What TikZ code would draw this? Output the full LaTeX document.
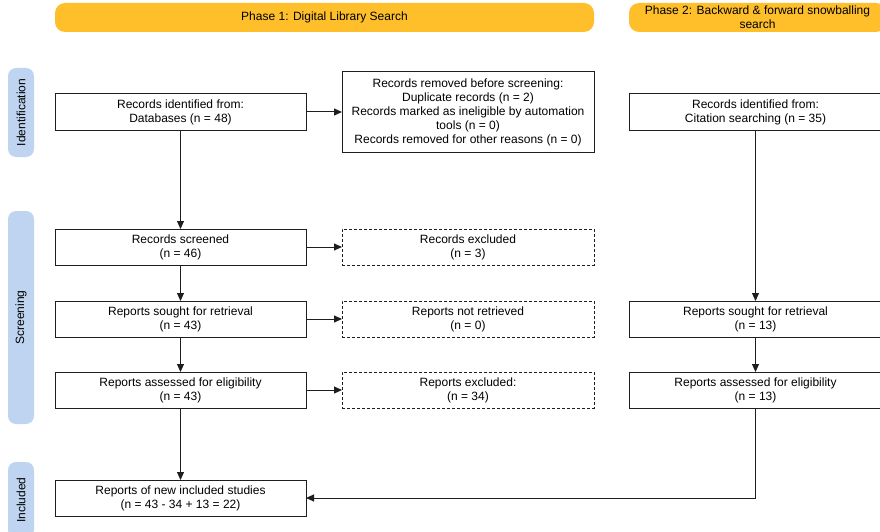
\documentclass[tikz,border=0pt]{standalone}
\usepackage{fontspec}
\setmainfont{Liberation Sans}
\usetikzlibrary{arrows.meta,positioning}
\definecolor{PrismaYellow}{HTML}{FEBF2B}
\definecolor{PrismaBlue}{HTML}{BFD4F0}
\definecolor{PrismaLine}{HTML}{1E1E1E}

\begin{document}
\begin{tikzpicture}[x=1pt,y=-1pt,node distance=36pt,
    every node/.style={font=\fontsize{12}{14}\selectfont},
    stepbox/.style={draw=PrismaLine,line width=1pt,minimum width=251pt,
      minimum height=36pt,align=center,inner sep=2pt,outer sep=0pt},
    exclbox/.style={stepbox,minimum width=252pt,dash pattern=on 3pt off 2pt},
    phasebar/.style={rounded corners=10pt,fill=PrismaYellow,minimum height=29pt,
      align=center,inner sep=1pt},
    sidebar/.style={rounded corners=8pt,fill=PrismaBlue,minimum height=26pt,
      rotate=90,inner sep=0pt},
    flow/.style={-{Triangle[length=8pt,width=7pt]},line width=1pt,PrismaLine}]
    \useasboundingbox (0,0) rectangle (880,532);
    \node[phasebar,minimum width=539pt] (ph1) at (324.5,17.5)
      {Phase 1: Digital Library Search};
    \node[phasebar,minimum width=257pt] (ph2) at (757.5,17.5)
      {Phase 2: Backward \& forward snowballing\\search};
    \node[sidebar,minimum width=89pt] (sid) at (21,112.5) {Identification};
    \node[sidebar,minimum width=213pt] (ssc) at (21,317.5) {Screening};
    \node[sidebar,minimum width=76pt] (sinc) at (21,500) {Included};
    \node[stepbox] (db) at (180.5,112)
      {Records identified from:\\Databases (n = 48)};
    \node[stepbox,minimum width=252pt,minimum height=80pt,right=of db] (rm)
      {Records removed before screening:\\Duplicate records (n = 2)\\
       Records marked as ineligible by automation\\tools (n = 0)\\
       Records removed for other reasons (n = 0)};
    \node[stepbox,below=99pt of db] (scr) {Records screened\\(n = 46)};
    \node[exclbox,right=of scr] (exc) {Records excluded\\(n = 3)};
    \node[stepbox,below=of scr] (srt) {Reports sought for retrieval\\(n = 43)};
    \node[exclbox,right=of srt] (nrt) {Reports not retrieved\\(n = 0)};
    \node[stepbox,below=35pt of srt] (ael) {Reports assessed for eligibility\\(n = 43)};
    \node[exclbox,right=of ael] (rex) {Reports excluded:\\(n = 34)};
    \node[stepbox,below=72pt of ael] (inc)
      {Reports of new included studies\\(n = 43 - 34 + 13 = 22)};
    \node[stepbox,minimum width=253pt] (cit) at (755.5,112)
      {Records identified from:\\Citation searching (n = 35)};
    \node[stepbox,minimum width=253pt,below=171pt of cit] (srt2)
      {Reports sought for retrieval\\(n = 13)};
    \node[stepbox,minimum width=253pt,below=35pt of srt2] (ael2)
      {Reports assessed for eligibility\\(n = 13)};
    \draw[flow] (db) -- (rm);
    \draw[flow] (db) -- (scr);
    \draw[flow] (scr) -- (exc);
    \draw[flow] (scr) -- (srt);
    \draw[flow] (srt) -- (nrt);
    \draw[flow] (srt) -- (ael);
    \draw[flow] (ael) -- (rex);
    \draw[flow] (ael) -- (inc);
    \draw[flow] (cit) -- (srt2);
    \draw[flow] (srt2) -- (ael2);
    \draw[flow] (ael2) |- (inc);
\end{tikzpicture}
\end{document}
